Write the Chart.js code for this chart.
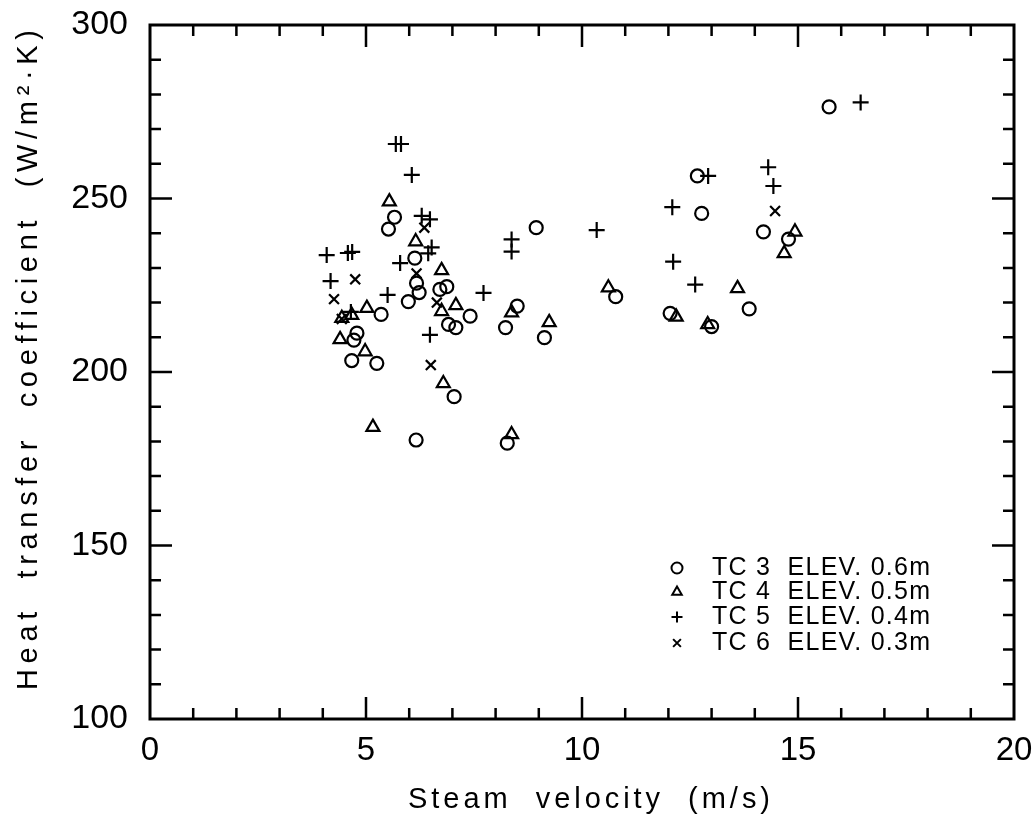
<!DOCTYPE html>
<html>
<head>
<meta charset="utf-8">
<script src="https://cdn.jsdelivr.net/npm/chart.js@4"></script>
<style>
  html, body { margin: 0; padding: 0; background: #fff; }
  #wrap { width: 1033px; height: 821px; }
</style>
</head>
<body>
<div id="wrap"><canvas id="chart"></canvas></div>
<script>
// TC 3 (circles)
const tc3X = [5.66, 5.52, 6.13, 6.17, 6.23, 5.98, 6.71, 6.87, 7.41, 6.91, 7.08, 5.35, 4.79, 4.72, 4.67, 5.25, 7.04, 6.16,
              8.94, 8.50, 8.23, 9.13, 8.27, 10.78, 12.67, 12.77, 12.04, 13.0, 14.2, 14.78, 13.87, 15.72];
const tc3Y = [244.6, 241.2, 232.8, 225.6, 222.9, 220.3, 223.8, 224.6, 216.1, 213.7, 212.8, 216.6, 211.2, 209.2, 203.3, 202.5, 192.9, 180.4,
              241.6, 219.0, 212.8, 209.9, 179.5, 221.7, 256.5, 245.7, 216.9, 213.1, 240.4, 238.3, 218.2, 276.4];
// TC 4 (triangles)
const tc4X = [5.54, 6.15, 6.75, 6.75, 7.08, 5.02, 4.67, 4.44, 4.40, 4.98, 6.79, 5.16, 8.37, 9.24, 8.37, 10.61, 12.18, 12.91, 13.6, 14.93, 14.68];
const tc4Y = [249.1, 237.6, 229.3, 217.5, 219.2, 218.4, 216.4, 215.5, 209.4, 205.9, 196.7, 184.1, 217.1, 214.3, 182.0, 224.3, 215.9, 213.7, 224.1, 240.4, 234.2];
// TC 5 (plus)
const tc5X = [5.69, 5.81, 6.06, 6.29, 6.48, 6.52, 6.44, 5.79, 4.09, 4.58, 4.68, 4.18, 5.50, 6.48, 7.72, 8.37, 8.37, 10.34,
              12.09, 12.92, 12.11, 12.62, 14.31, 14.43, 16.45, 4.65];
const tc5Y = [265.7, 265.7, 256.8, 245.0, 244.0, 235.9, 234.2, 231.4, 233.7, 234.3, 234.6, 226.2, 222.2, 210.7, 222.8, 238.2, 234.7, 240.9,
              247.5, 256.5, 231.8, 225.2, 259.0, 253.6, 277.7, 217.3];
// TC 6 (x)
const tc6X = [6.35, 6.17, 4.75, 4.26, 6.64, 6.50, 14.47, 4.44];
const tc6Y = [241.6, 228.4, 226.7, 221.0, 220.0, 202.0, 246.4, 215.3];

const seriesNames = ['TC 3  ELEV. 0.6m', 'TC 4  ELEV. 0.5m', 'TC 5  ELEV. 0.4m', 'TC 6  ELEV. 0.3m'];
const xTicks = [0, 5, 10, 15, 20];
const yTicks = [100, 150, 200, 250, 300];
const xTitle = 'Steam  velocity  (m/s)';
const yTitle = 'Heat  transfer  coefficient  (W/m\u00B2\u00B7K)';

const FONT = '"Liberation Sans", Arial, sans-serif';
const pts = (xs, ys) => xs.map((x, i) => ({ x, y: ys[i] }));

function spacedText(ctx, text, x, y, width) {
    ctx.letterSpacing = '0px';
    const w = ctx.measureText(text).width;
    const sp = (width - w) / (text.length - 1);
    ctx.letterSpacing = sp + 'px';
    ctx.textAlign = 'left';
    ctx.fillText(text, x, y);
    ctx.letterSpacing = '0px';
}

const framePlugin = {
    id: 'frame',
    afterDraw(chart) {
        const { ctx, chartArea: a, scales } = chart;
        ctx.save();
        ctx.strokeStyle = '#000';
        ctx.lineWidth = 3;
        ctx.strokeRect(a.left, a.top, a.right - a.left, a.bottom - a.top);
        ctx.lineWidth = 2.5;
        ctx.beginPath();
        for (let v = 1; v < 20; v++) {
            const px = scales.x.getPixelForValue(v);
            const len = v % 5 === 0 ? 22 : 11;
            ctx.moveTo(px, a.bottom); ctx.lineTo(px, a.bottom - len);
            ctx.moveTo(px, a.top); ctx.lineTo(px, a.top + len);
        }
        for (let v = 110; v < 300; v += 10) {
            const py = scales.y.getPixelForValue(v);
            const len = v % 50 === 0 ? 22 : 11;
            ctx.moveTo(a.left, py); ctx.lineTo(a.left + len, py);
            ctx.moveTo(a.right, py); ctx.lineTo(a.right - len, py);
        }
        ctx.stroke();

        // axis titles
        ctx.fillStyle = '#000';
        ctx.font = '29px ' + FONT;
        ctx.textBaseline = 'middle';
        spacedText(ctx, xTitle, 408, 800, 362);
        ctx.translate(29, 690);
        ctx.rotate(-Math.PI / 2);
        spacedText(ctx, yTitle, 0, 0, 660);
        ctx.restore();

        // legend
        ctx.save();
        const rows = [568, 592, 617, 643];
        ctx.font = '25px ' + FONT;
        ctx.textBaseline = 'middle';
        chart.data.datasets.forEach((ds, i) => {
            ctx.fillStyle = 'rgba(0,0,0,0)';
            ctx.strokeStyle = '#000';
            ctx.lineWidth = 2;
            Chart.helpers.drawPoint(ctx, {
                pointStyle: ds.pointStyle, radius: 5.5, borderWidth: 2, rotation: 0
            }, 677, rows[i]);
            ctx.fillStyle = '#000';
            spacedText(ctx, seriesNames[i], 712, rows[i], 218);
        });
        ctx.restore();
    }
};

const common = { showLine: false, borderColor: '#000', backgroundColor: 'rgba(0,0,0,0)', borderWidth: 2.2 };

new Chart(document.getElementById('chart'), {
    type: 'scatter',
    data: {
        datasets: [
            { ...common, label: seriesNames[0], data: pts(tc3X, tc3Y), pointStyle: 'circle', pointRadius: 6.5 },
            { ...common, label: seriesNames[1], data: pts(tc4X, tc4Y), pointStyle: 'triangle', pointRadius: 7.5 },
            { ...common, label: seriesNames[2], data: pts(tc5X, tc5Y), pointStyle: 'cross', pointRadius: 8 },
            { ...common, label: seriesNames[3], data: pts(tc6X, tc6Y), pointStyle: 'crossRot', pointRadius: 7 }
        ]
    },
    options: {
        responsive: true,
        maintainAspectRatio: false,
        animation: false,
        layout: { padding: { top: 25, right: 19, left: 0, bottom: 0 } },
        plugins: { legend: { display: false }, tooltip: { enabled: false } },
        scales: {
            x: {
                type: 'linear', min: 0, max: 20,
                afterBuildTicks: s => { s.ticks = xTicks.map(v => ({ value: v })); },
                afterFit: s => { s.height = 102; s.paddingLeft = 0; s.paddingRight = 0; },
                grid: { display: false },
                border: { display: false },
                ticks: { color: '#000', padding: 4, font: { family: FONT, size: 33 } }
            },
            y: {
                type: 'linear', min: 100, max: 300,
                afterBuildTicks: s => { s.ticks = yTicks.map(v => ({ value: v })); },
                afterFit: s => { s.width = 150; s.paddingTop = 0; s.paddingBottom = 0; },
                grid: { display: false },
                border: { display: false },
                ticks: { color: '#000', padding: 14, font: { family: FONT, size: 34 } }
            }
        }
    },
    plugins: [framePlugin]
});
</script>
</body>
</html>
